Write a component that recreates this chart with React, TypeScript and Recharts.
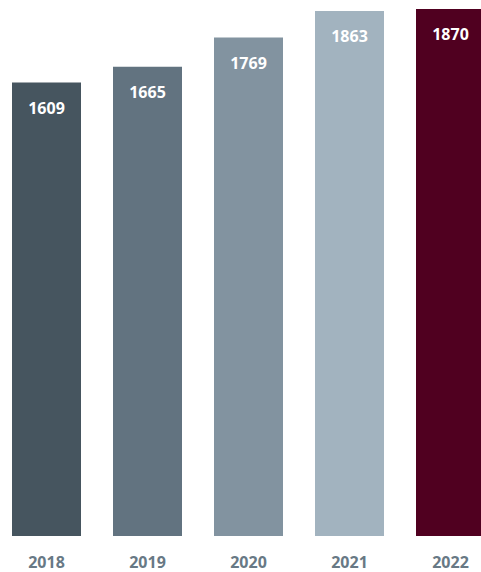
import { BarChart, Bar, XAxis, YAxis, Cell, LabelList } from "recharts";

const years = ["2018", "2019", "2020", "2021", "2022"];
const counts = [1609, 1665, 1769, 1863, 1870];
const colors = ["#46555f", "#627380", "#8293a0", "#a2b3bf", "#500020"];

const data = years.map((year, i) => ({ year, value: counts[i] }));

const font = "'Open Sans', sans-serif";

export default function App() {
  return (
    <div style={{ position: "absolute", left: 0, top: 0, width: 481, height: 572, overflow: "hidden", background: "#fff" }}>
      <div style={{ position: "relative", left: -4.5 }}>
        <BarChart width={505} height={572} data={data} margin={{ top: 9, right: 0, bottom: 0, left: 0 }}>
          <XAxis
            dataKey="year"
            height={36}
            axisLine={false}
            tickLine={false}
            tickSize={0}
            tickMargin={21}
            interval={0}
            tick={{ fill: "#687985", fontSize: 16, fontWeight: 700, fontFamily: font }}
          />
          <YAxis hide domain={[0, 1870]} />
          <Bar dataKey="value" barSize={69} isAnimationActive={false}>
            {data.map((d, i) => (
              <Cell key={d.year} fill={colors[i]} />
            ))}
            <LabelList
              dataKey="value"
              position="insideTop"
              offset={20}
              fill="#ffffff"
              style={{ fontSize: 16, fontWeight: 700, fontFamily: font }}
            />
          </Bar>
        </BarChart>
      </div>
    </div>
  );
}
